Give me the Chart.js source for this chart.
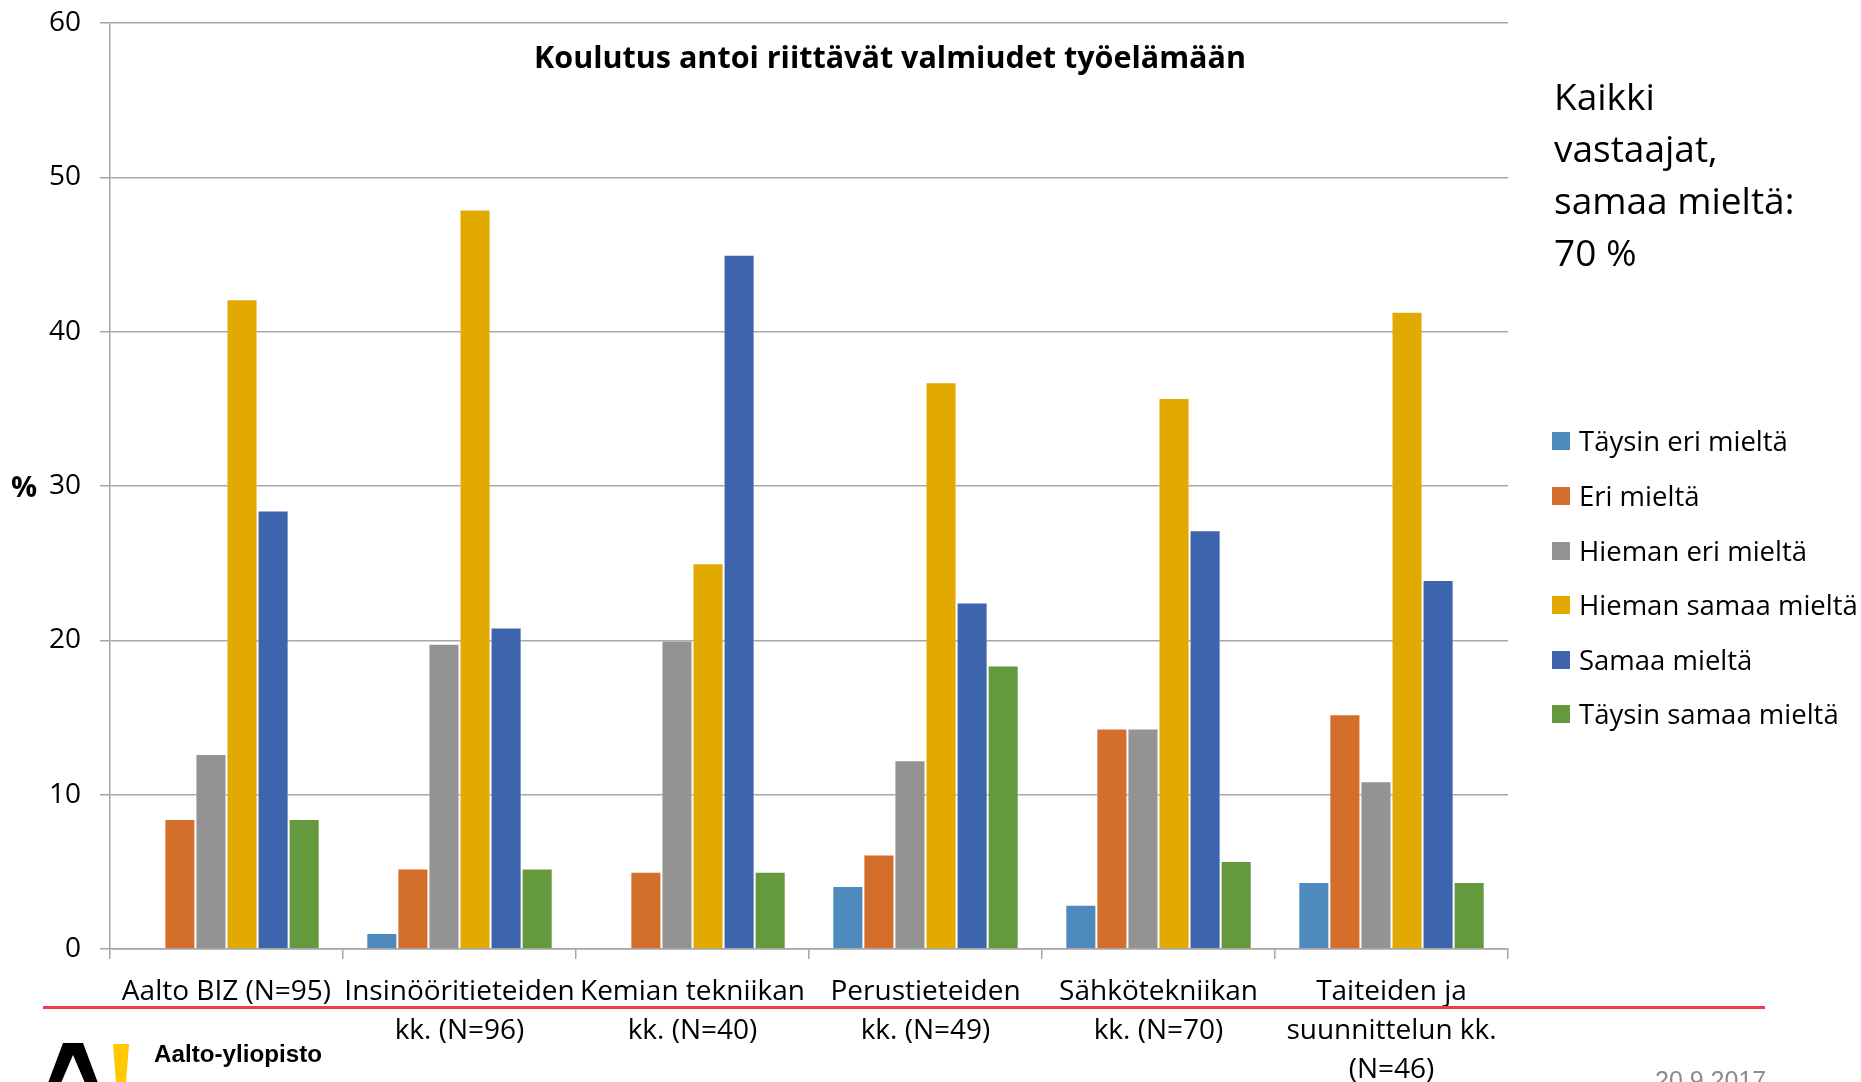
<!DOCTYPE html>
<html>
<head>
<meta charset="utf-8">
<script src="https://cdn.jsdelivr.net/npm/chart.js@4"></script>
<style>
  html, body { margin: 0; padding: 0; background: #fff; overflow: hidden; }
  body { width: 1861px; height: 1082px; position: relative; font-family: "Open Sans", sans-serif; }
  #wrap { position: absolute; left: 0; top: 0; width: 1861px; height: 1082px; }
  .side { position: absolute; left: 1554px; top: 70px; font-size: 37px; line-height: 52px; color: #000; }
  .legend { position: absolute; left: 1552px; top: 1px; }
  .legend div { position: absolute; left: 0; white-space: nowrap; font-size: 27.5px; line-height: 30px; height: 30px; }
  .legend span.box { position: absolute; left: 0; top: 6px; width: 18px; height: 18px; }
  .legend span.txt { position: absolute; left: 27px; top: 0; }
  .redline { position: absolute; left: 43px; top: 1006px; width: 1722px; height: 3px; background: #ec3f4b; }
  .logo { position: absolute; left: 48px; top: 1043px; }
  .brand { position: absolute; left: 154px; top: 1040px; font-family: "Liberation Sans", Arial, sans-serif; font-weight: bold; font-size: 24.2px; color: #000; }
  .date { position: absolute; left: 1655px; top: 1066px; font-family: "Liberation Sans", Arial, sans-serif; font-size: 25px; color: #8c8c8c; }
</style>
</head>
<body>
<div id="wrap"><canvas id="chart"></canvas></div>
<div class="side">Kaikki<br>vastaajat,<br>samaa mieltä:<br>70 %</div>
<div class="legend" id="legend"></div>
<div class="redline"></div>
<svg class="logo" width="90" height="40" viewBox="0 0 90 40">
  <polygon points="15,0 35,0 50,40 37,40 25,12 13,40 0,40" fill="#000"/>
  <polygon points="65,1 81,1 78,40 68,40" fill="#ffc800"/>
</svg>
<div class="brand">Aalto-yliopisto</div>
<div class="date">20.9.2017</div>
<script>
/** DATA */
const categories = [
    ['Aalto BIZ (N=95)'],
    ['Insinööritieteiden', 'kk. (N=96)'],
    ['Kemian tekniikan', 'kk. (N=40)'],
    ['Perustieteiden', 'kk. (N=49)'],
    ['Sähkötekniikan', 'kk. (N=70)'],
    ['Taiteiden ja', 'suunnittelun kk.', '(N=46)']
];
const seriesNames = ['Täysin eri mieltä', 'Eri mieltä', 'Hieman eri mieltä', 'Hieman samaa mieltä', 'Samaa mieltä', 'Täysin samaa mieltä'];
const taysinEri = [0, 1.04, 0, 4.08, 2.86, 4.35];
const eri = [8.42, 5.21, 5, 6.12, 14.29, 15.22];
const hiemanEri = [12.63, 19.79, 20, 12.24, 14.29, 10.87];
const hiemanSamaa = [42.11, 47.92, 25, 36.73, 35.71, 41.3];
const samaa = [28.42, 20.83, 45, 22.45, 27.14, 23.91];
const taysinSamaa = [8.42, 5.21, 5, 18.37, 5.71, 4.35];
const yTicks = [0, 10, 20, 30, 40, 50, 60];
const seriesColors = ['#4f8abe', '#d46e2b', '#939393', '#e2aa00', '#3d65ad', '#64993e'];
const titleText = 'Koulutus antoi riittävät valmiudet työelämään';

const allSeries = [taysinEri, eri, hiemanEri, hiemanSamaa, samaa, taysinSamaa];

// html legend on the right
const legendDiv = document.getElementById('legend');
const legendTops = [425, 480, 535, 589, 644, 698];
seriesNames.forEach(function (name, i) {
    const row = document.createElement('div');
    row.style.top = legendTops[i] + 'px';
    row.innerHTML = '<span class="box" style="background:' + seriesColors[i] + '"></span><span class="txt">' + name + '</span>';
    legendDiv.appendChild(row);
});

// title and "%" drawn on the canvas
const extraText = {
    id: 'extraText',
    afterDraw(chart) {
        const ctx = chart.ctx;
        const area = chart.chartArea;
        const y = chart.scales.y;
        ctx.save();
        ctx.fillStyle = '#000';
        ctx.textAlign = 'center';
        ctx.textBaseline = 'middle';
        ctx.font = 'bold 30.5px "Open Sans"';
        ctx.fillText(titleText, 890, area.top + 36);
        ctx.font = 'bold 29px "Open Sans"';
        ctx.fillText('%', 24, y.getPixelForValue(30) + 3);
        ctx.restore();
    }
};

const canvas = document.getElementById('chart');
canvas.width = 1861;
canvas.height = 1082;

new Chart(canvas.getContext('2d'), {
    type: 'bar',
    data: {
        labels: categories,
        datasets: allSeries.map(function (values, i) {
            return {
                label: seriesNames[i],
                data: values,
                backgroundColor: seriesColors[i],
                borderColor: 'rgba(255,255,255,0.35)',
                borderWidth: 1,
                categoryPercentage: 0.8,
                barPercentage: 1.0
            };
        })
    },
    options: {
        responsive: false,
        animation: false,
        layout: { padding: { top: 14, right: 353, left: 0, bottom: 0 } },
        plugins: {
            legend: { display: false },
            title: { display: false },
            tooltip: { enabled: false }
        },
        scales: {
            x: {
                afterFit: function (scale) { scale.height = 133; },
                grid: {
                    offset: true,
                    drawOnChartArea: false,
                    drawTicks: true,
                    tickLength: 10,
                    color: '#a6a6a6',
                    lineWidth: 1.5
                },
                border: { color: '#a6a6a6', width: 1.5 },
                ticks: {
                    color: '#000',
                    font: { family: 'Open Sans', size: 28, lineHeight: 1.39 },
                    maxRotation: 0,
                    minRotation: 0,
                    autoSkip: false,
                    padding: 14
                }
            },
            y: {
                min: 0,
                max: 60,
                afterFit: function (scale) { scale.width = 110; },
                afterBuildTicks: function (scale) {
                    scale.ticks = yTicks.map(function (v) { return { value: v }; });
                },
                grid: {
                    color: '#a6a6a6',
                    lineWidth: 1.5,
                    tickLength: 10
                },
                border: { color: '#a6a6a6', width: 1.5 },
                ticks: {
                    color: '#000',
                    font: { family: 'Open Sans', size: 28, lineHeight: 0.3 },
                    padding: 19
                }
            }
        }
    },
    plugins: [extraText]
});
</script>
</body>
</html>
